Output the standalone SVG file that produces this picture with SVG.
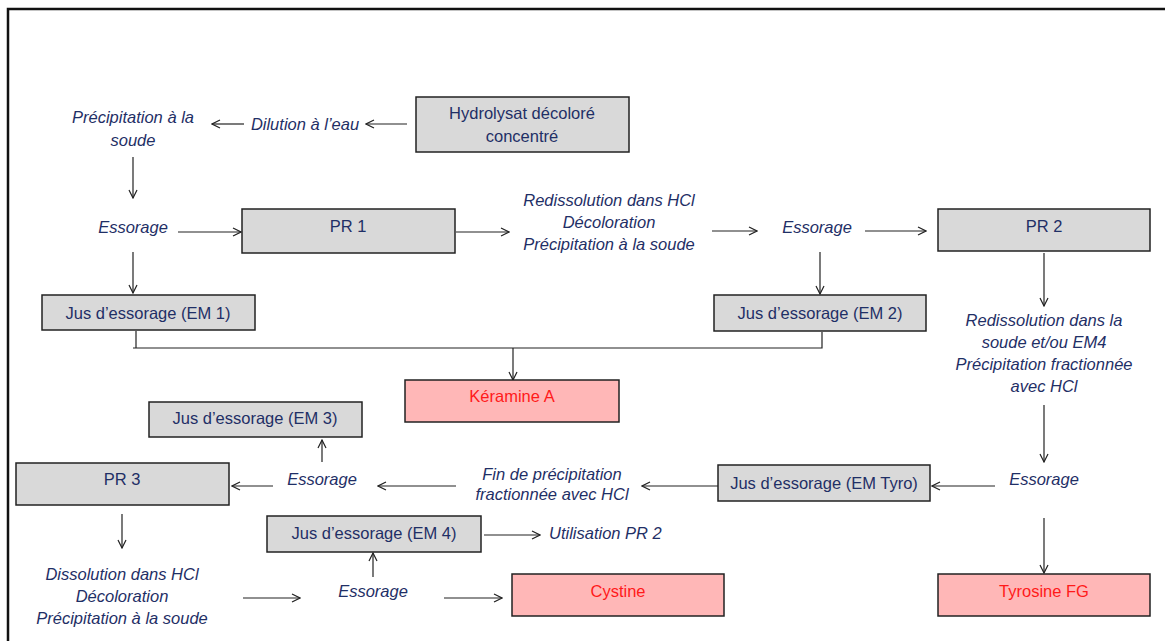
<svg xmlns="http://www.w3.org/2000/svg" width="1165" height="641" viewBox="0 0 1165 641">
  <defs>
    <marker id="arr" viewBox="0 0 10 10" refX="9" refY="5" markerWidth="10" markerHeight="10" markerUnits="userSpaceOnUse" orient="auto">
      <path d="M1,1 L9,5 L1,9" fill="none" stroke="#222" stroke-width="1.2"/>
    </marker>
    <style>
      .box { fill: #D9D9D9; stroke: #222; stroke-width: 1.5; }
      .prod { fill: #FFB7B7; stroke: #222; stroke-width: 1.5; }
      .lbl { font-family: "Liberation Sans", Arial, sans-serif; font-size: 16.5px; fill: #1F2F66; text-anchor: middle; }
      .red { fill: #FF1A1A; }
      .step { font-family: "Liberation Sans", Arial, sans-serif; font-size: 16.5px; font-style: italic; fill: #1F2F66; text-anchor: middle; }
      .ln { fill: none; stroke: #222; stroke-width: 1.2; }
      .ar { fill: none; stroke: #222; stroke-width: 1.2; marker-end: url(#arr); }
    </style>
  </defs>

  <rect x="0" y="0" width="1165" height="641" fill="#FFFFFF"/>
  <!-- page frame: top and left edges -->
  <path d="M8,641 V9 H1165" fill="none" stroke="#111" stroke-width="2.5"/>

  <!-- connectors -->
  <g id="connectors">
    <line class="ar" x1="407" y1="124" x2="366" y2="124"/>
    <line class="ar" x1="244" y1="124" x2="212" y2="124"/>
    <line class="ar" x1="133" y1="157" x2="133" y2="198"/>
    <line class="ar" x1="178" y1="232" x2="241" y2="232"/>
    <line class="ar" x1="133" y1="252" x2="133" y2="293"/>
    <line class="ar" x1="456" y1="232" x2="509" y2="232"/>
    <line class="ar" x1="712" y1="231" x2="757" y2="231"/>
    <line class="ar" x1="865" y1="231" x2="926" y2="231"/>
    <line class="ar" x1="820" y1="252" x2="820" y2="294"/>
    <line class="ar" x1="1044" y1="253" x2="1044" y2="306"/>
    <path class="ln" d="M136,331 V348 M133,348 H822 V332"/>
    <line class="ar" x1="513" y1="348" x2="513" y2="380"/>
    <line class="ar" x1="1044" y1="405" x2="1044" y2="462"/>
    <line class="ar" x1="995" y1="486" x2="932" y2="486"/>
    <line class="ar" x1="718" y1="486" x2="642" y2="486"/>
    <line class="ar" x1="456" y1="486" x2="378" y2="486"/>
    <line class="ar" x1="273" y1="486" x2="232" y2="486"/>
    <line class="ar" x1="322" y1="462" x2="322" y2="440"/>
    <line class="ar" x1="1044" y1="518" x2="1044" y2="573"/>
    <line class="ar" x1="122" y1="514" x2="122" y2="548"/>
    <line class="ar" x1="243" y1="598" x2="300" y2="598"/>
    <line class="ar" x1="373" y1="577" x2="373" y2="553"/>
    <line class="ar" x1="484" y1="535" x2="540" y2="535"/>
    <line class="ar" x1="444" y1="598" x2="502" y2="598"/>
  </g>

  <!-- boxed materials -->
  <g id="hydrolysat">
    <rect class="box" x="416" y="97" width="213" height="55"/>
    <text class="lbl" x="522" y="119">Hydrolysat décoloré</text>
    <text class="lbl" x="522" y="142">concentré</text>
  </g>
  <g id="pr1">
    <rect class="box" x="242" y="209" width="213" height="44"/>
    <text class="lbl" x="348" y="232">PR 1</text>
  </g>
  <g id="pr2">
    <rect class="box" x="938" y="209" width="212" height="42"/>
    <text class="lbl" x="1044" y="232">PR 2</text>
  </g>
  <g id="em1">
    <rect class="box" x="42" y="295" width="213" height="35"/>
    <text class="lbl" x="148" y="319">Jus d’essorage (EM 1)</text>
  </g>
  <g id="em2">
    <rect class="box" x="714" y="295" width="212" height="36"/>
    <text class="lbl" x="820" y="319">Jus d’essorage (EM 2)</text>
  </g>
  <g id="keramine">
    <rect class="prod" x="405" y="380" width="214" height="42"/>
    <text class="lbl red" x="512" y="402">Kéramine A</text>
  </g>
  <g id="em3">
    <rect class="box" x="149" y="402" width="213" height="35"/>
    <text class="lbl" x="255" y="424">Jus d’essorage (EM 3)</text>
  </g>
  <g id="pr3">
    <rect class="box" x="16" y="463" width="213" height="42"/>
    <text class="lbl" x="122" y="485">PR 3</text>
  </g>
  <g id="emtyro">
    <rect class="box" x="718" y="465" width="212" height="36"/>
    <text class="lbl" x="824" y="489">Jus d’essorage (EM Tyro)</text>
  </g>
  <g id="em4">
    <rect class="box" x="267" y="516" width="214" height="36"/>
    <text class="lbl" x="374" y="539">Jus d’essorage (EM 4)</text>
  </g>
  <g id="cystine">
    <rect class="prod" x="512" y="574" width="212" height="42"/>
    <text class="lbl red" x="618" y="597">Cystine</text>
  </g>
  <g id="tyrosine">
    <rect class="prod" x="938" y="574" width="212" height="42"/>
    <text class="lbl red" x="1044" y="597">Tyrosine FG</text>
  </g>

  <!-- process steps -->
  <g id="dilution">
    <text class="step" x="305" y="130">Dilution à l’eau</text>
  </g>
  <g id="precip1">
    <text class="step" x="133" y="123">Précipitation à la</text>
    <text class="step" x="133" y="146">soude</text>
  </g>
  <g id="essorage1">
    <text class="step" x="133" y="233">Essorage</text>
  </g>
  <g id="redissolution1">
    <text class="step" x="609" y="206">Redissolution dans HCl</text>
    <text class="step" x="609" y="228">Décoloration</text>
    <text class="step" x="609" y="250">Précipitation à la soude</text>
  </g>
  <g id="essorage2">
    <text class="step" x="817" y="233">Essorage</text>
  </g>
  <g id="redissolution2">
    <text class="step" x="1044" y="326">Redissolution dans la</text>
    <text class="step" x="1044" y="348">soude et/ou EM4</text>
    <text class="step" x="1044" y="370">Précipitation fractionnée</text>
    <text class="step" x="1044" y="392">avec HCl</text>
  </g>
  <g id="essorage3">
    <text class="step" x="1044" y="485">Essorage</text>
  </g>
  <g id="finprecip">
    <text class="step" x="552" y="480">Fin de précipitation</text>
    <text class="step" x="552" y="500">fractionnée avec HCl</text>
  </g>
  <g id="essorage4">
    <text class="step" x="322" y="485">Essorage</text>
  </g>
  <g id="utilisation">
    <text class="step" x="549" y="539" style="text-anchor:start">Utilisation PR 2</text>
  </g>
  <g id="dissolution">
    <text class="step" x="122" y="580">Dissolution dans HCl</text>
    <text class="step" x="122" y="602">Décoloration</text>
    <text class="step" x="122" y="624">Précipitation à la soude</text>
  </g>
  <g id="essorage5">
    <text class="step" x="373" y="597">Essorage</text>
  </g>
</svg>
